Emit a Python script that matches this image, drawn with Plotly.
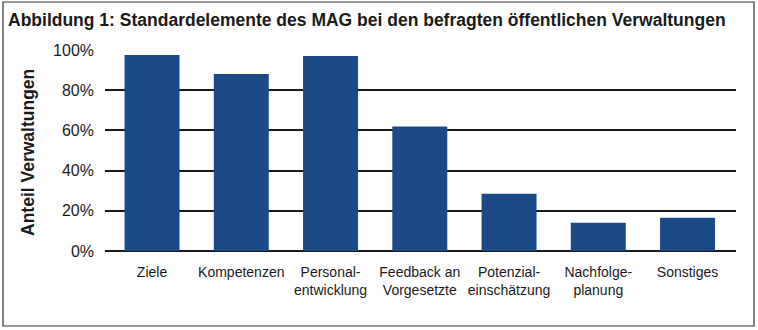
import plotly.graph_objects as go

categories = ["Ziele", "Kompetenzen", "Personal-<br>entwicklung", "Feedback an<br>Vorgesetzte",
              "Potenzial-<br>einschätzung", "Nachfolge-<br>planung", "Sonstiges"]
values = [97.5, 88, 97, 62, 28.5, 14, 16.5]
y_ticks = [0, 20, 40, 60, 80, 100]
y_tick_labels = ["0%", "20%", "40%", "60%", "80%", "100%"]

FONT = "Liberation Sans, Arial, sans-serif"
W, H = 758, 330
L, R, T, B = 105, 22, 50, 79
pw, ph = W - L - R, H - T - B

fig = go.Figure(go.Bar(
    x=list(range(len(categories))), y=values,
    marker=dict(color="#1c4a86", line=dict(width=0)),
    width=0.616,
))

def px_to_paper_x(px):
    return (px - L) / pw

def px_to_paper_y(py):
    return (H - B - py) / ph

fig.update_layout(
    width=W, height=H,
    margin=dict(l=L, r=R, t=T, b=B, pad=0, autoexpand=False),
    paper_bgcolor="white", plot_bgcolor="white",
    showlegend=False,
    font=dict(family=FONT, color="#1a1a1a", size=14),
    title=dict(text="<b>Abbildung 1: Standardelemente des MAG bei den befragten öffentlichen Verwaltungen</b>",
               x=8 / W, xanchor="left", xref="container",
               y=1 - 20 / H, yanchor="middle", yref="container",
               font=dict(family=FONT, size=17.5, color="#1a1a1a")),
    xaxis=dict(tickmode="array", tickvals=list(range(len(categories))), ticktext=categories,
               range=[-0.527, 6.543], showgrid=False, zeroline=False, showline=False,
               automargin=False, tickangle=0,
               ticks="", tickfont=dict(family=FONT, size=14, color="#1a1a1a"), ticklabelstandoff=11),
    yaxis=dict(range=[0, 100], tickmode="array", tickvals=y_ticks, ticktext=y_tick_labels,
               showgrid=True, gridcolor="#1a1a1a", gridwidth=1.5, automargin=False,
               zeroline=True, zerolinecolor="#1a1a1a", zerolinewidth=1.5,
               showline=False, ticks="", ticklabelstandoff=10,
               tickfont=dict(family=FONT, size=16, color="#1a1a1a")),
    annotations=[dict(text="<b>Anteil Verwaltungen</b>", textangle=-90,
                      x=px_to_paper_x(28), y=px_to_paper_y(153), xref="paper", yref="paper",
                      xanchor="center", yanchor="middle", showarrow=False,
                      font=dict(family=FONT, size=17.5, color="#1a1a1a"))],
    shapes=[dict(type="rect", xref="paper", yref="paper",
                 x0=px_to_paper_x(3), x1=px_to_paper_x(754),
                 y0=px_to_paper_y(326), y1=px_to_paper_y(2),
                 line=dict(color="#333333", width=1.2), layer="below")],
)

fig.write_html("out.html")
